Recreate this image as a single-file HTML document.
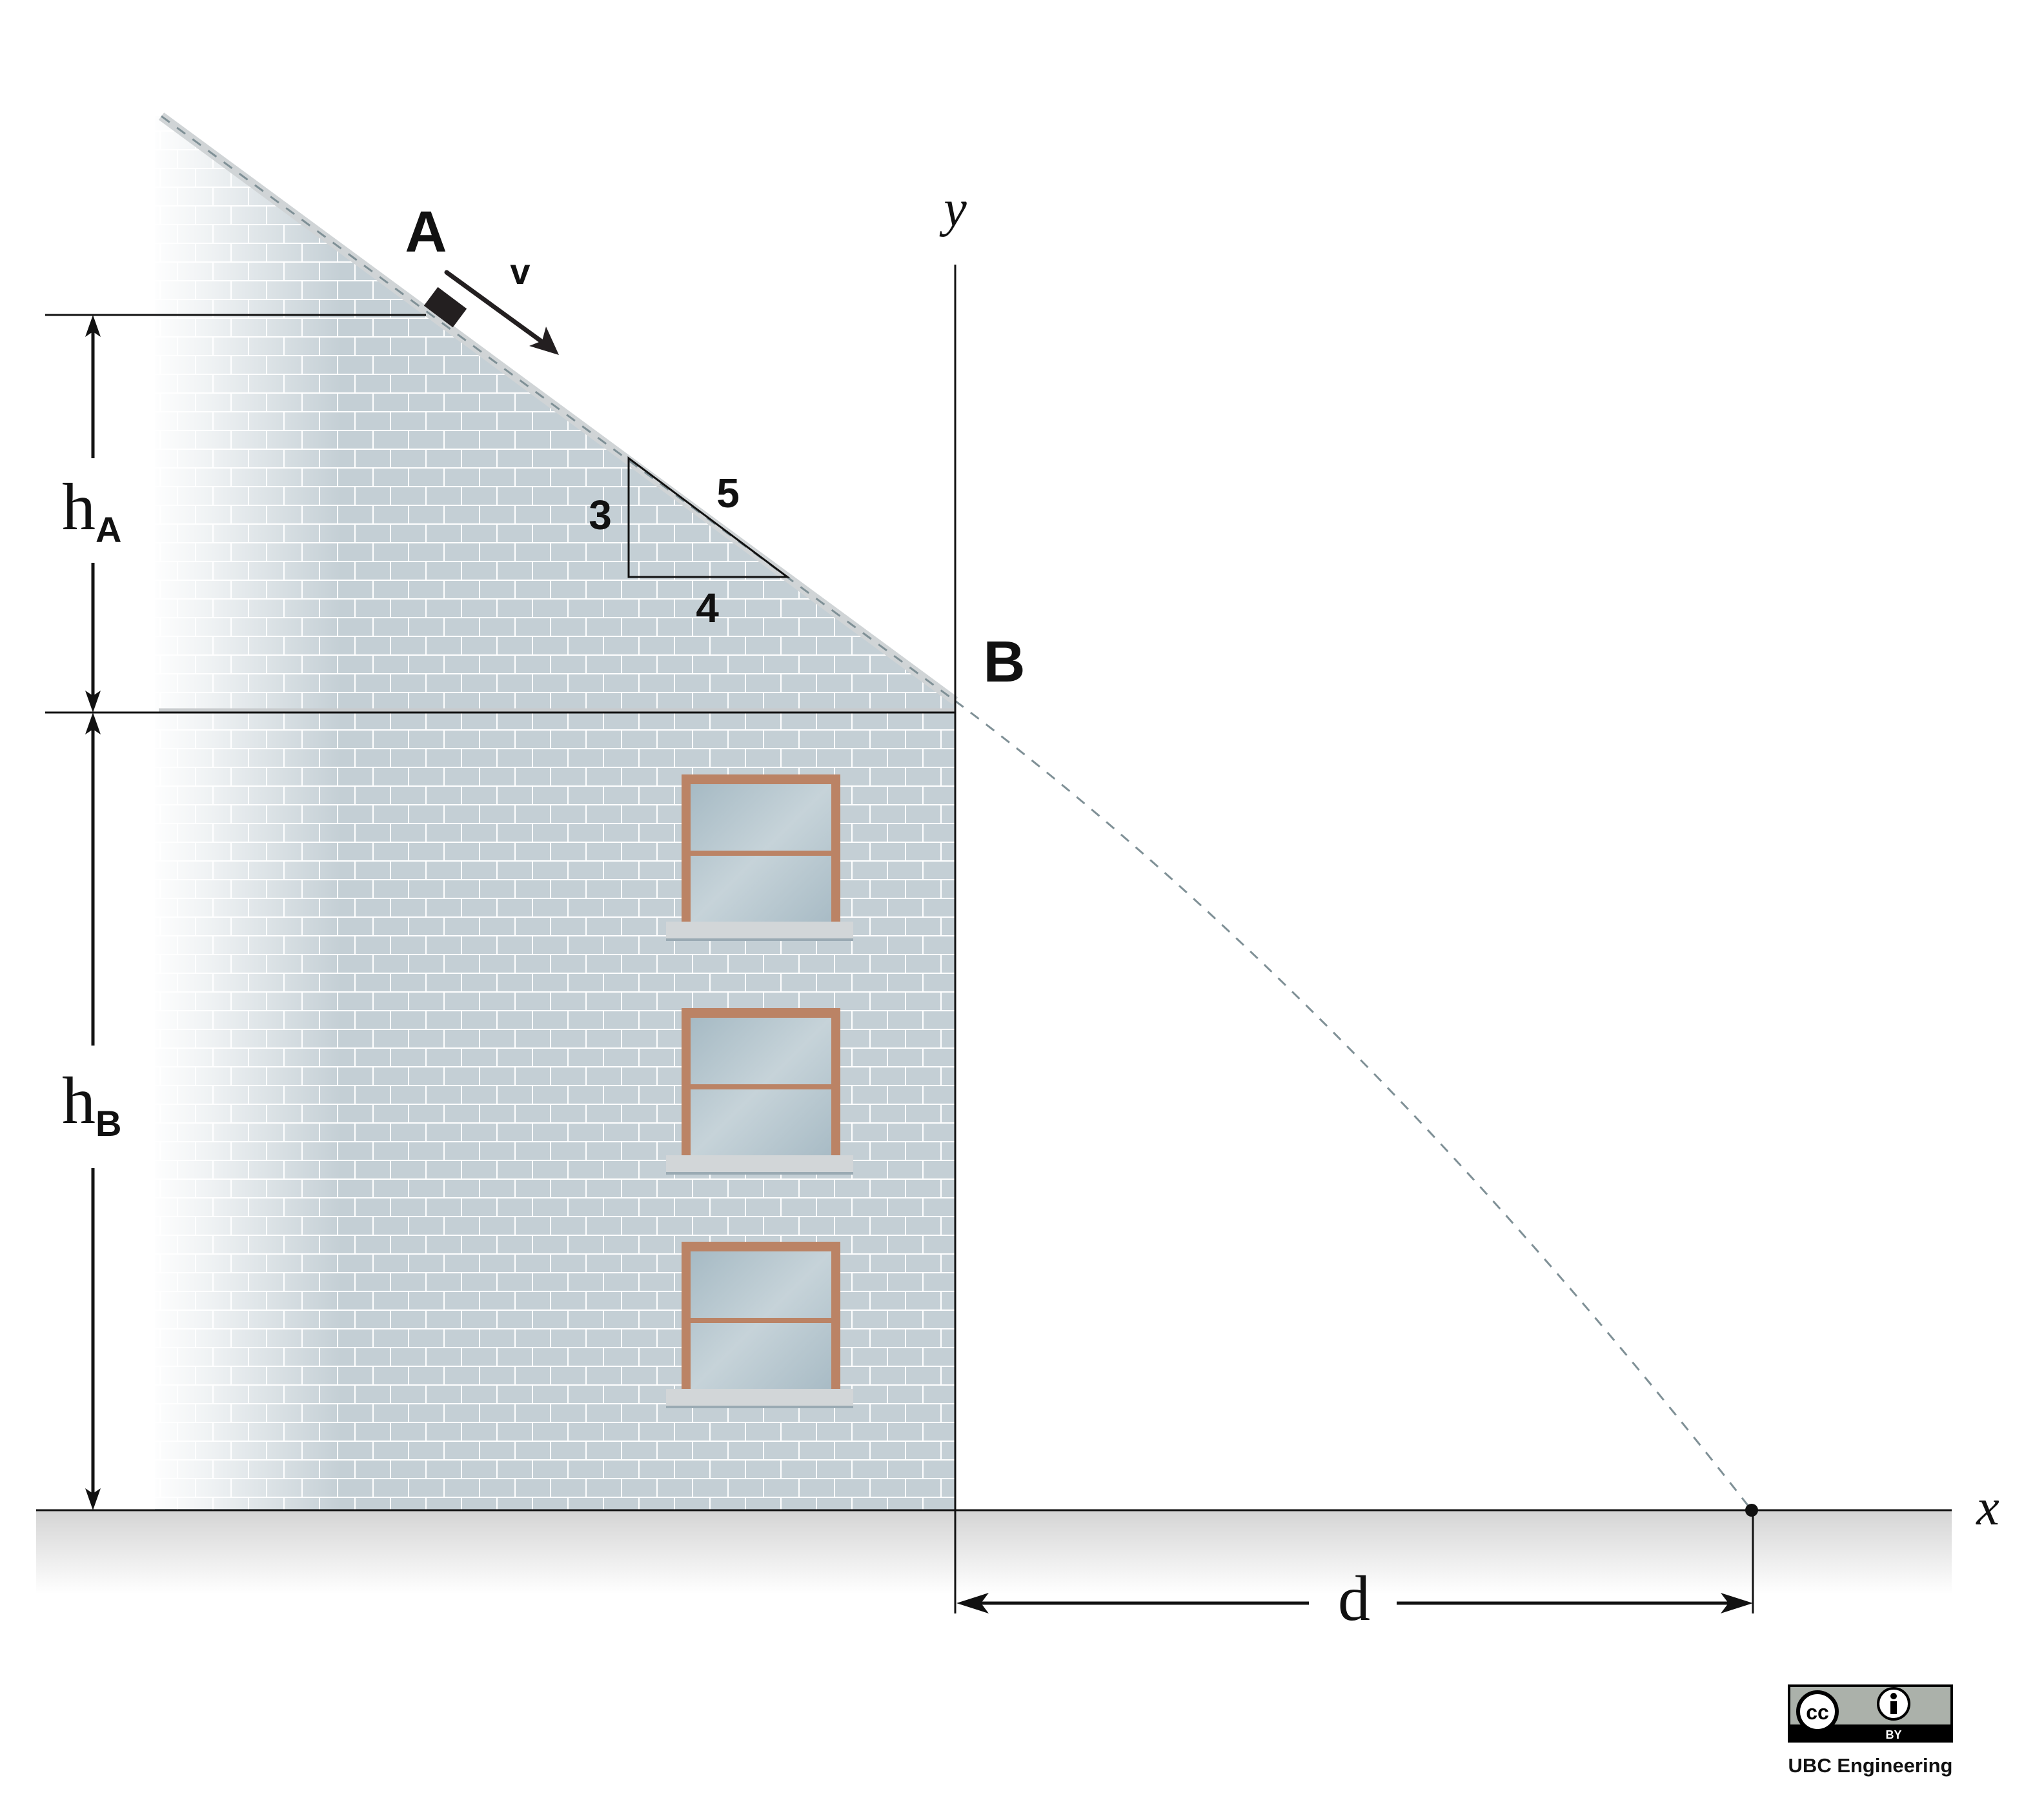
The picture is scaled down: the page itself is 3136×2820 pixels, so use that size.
<!DOCTYPE html>
<html><head><meta charset="utf-8"><style>html,body{margin:0;padding:0;background:#fff}svg{display:block}</style></head>
<body>
<svg width="3136" height="2820" viewBox="0 0 3136 2820" xmlns="http://www.w3.org/2000/svg">
<defs>
<pattern id="brick" x="0" y="0" width="110" height="58" patternUnits="userSpaceOnUse">
<rect width="110" height="58" fill="#fff"/>
<rect x="1" y="1" width="53" height="27" fill="#c4cfd5"/>
<rect x="56" y="1" width="53" height="27" fill="#c4cfd5"/>
<rect x="-26" y="30" width="53" height="27" fill="#c4cfd5"/>
<rect x="29" y="30" width="53" height="27" fill="#c4cfd5"/>
<rect x="84" y="30" width="53" height="27" fill="#c4cfd5"/>
</pattern>
<linearGradient id="fade" x1="0" x2="1" y1="0" y2="0">
<stop offset="0" stop-color="#fff" stop-opacity="1"/>
<stop offset="0.3" stop-color="#fff" stop-opacity="0.75"/>
<stop offset="1" stop-color="#fff" stop-opacity="0"/>
</linearGradient>
<linearGradient id="ground" x1="0" x2="0" y1="0" y2="1">
<stop offset="0" stop-color="#d4d4d4"/>
<stop offset="1" stop-color="#fff"/>
</linearGradient>
<linearGradient id="glass" x1="0" x2="1" y1="0" y2="1">
<stop offset="0" stop-color="#a6bac4"/>
<stop offset="0.5" stop-color="#c6d3d9"/>
<stop offset="1" stop-color="#a8bbc5"/>
</linearGradient>
</defs>

<rect x="56" y="2340" width="2968" height="130" fill="url(#ground)"/>

<g>
<polygon points="250,180 1480,1086 1480,2340 240,2340 240,180" fill="url(#brick)"/>
<rect x="230" y="160" width="300" height="2178" fill="url(#fade)"/>
<line x1="250" y1="180" x2="1480" y2="1086" stroke="#d0d4d6" stroke-width="14"/>
<line x1="246" y1="1100" x2="1480" y2="1100" stroke="#c8cbcd" stroke-width="5"/>
</g>

<g>
<g>
<rect x="1056" y="1200" width="246" height="230" fill="#bb8365"/>
<rect x="1070" y="1215" width="218" height="215" fill="url(#glass)"/>
<rect x="1070" y="1318" width="218" height="8" fill="#bb8365"/>
<rect x="1032" y="1428" width="290" height="26" fill="#d2d6d8"/>
<rect x="1032" y="1454" width="290" height="4" fill="#9aaab3"/>
</g>
<g>
<rect x="1056" y="1562" width="246" height="230" fill="#bb8365"/>
<rect x="1070" y="1577" width="218" height="215" fill="url(#glass)"/>
<rect x="1070" y="1680" width="218" height="8" fill="#bb8365"/>
<rect x="1032" y="1790" width="290" height="26" fill="#d2d6d8"/>
<rect x="1032" y="1816" width="290" height="4" fill="#9aaab3"/>
</g>
<g>
<rect x="1056" y="1924" width="246" height="230" fill="#bb8365"/>
<rect x="1070" y="1939" width="218" height="215" fill="url(#glass)"/>
<rect x="1070" y="2042" width="218" height="8" fill="#bb8365"/>
<rect x="1032" y="2152" width="290" height="26" fill="#d2d6d8"/>
<rect x="1032" y="2178" width="290" height="4" fill="#9aaab3"/>
</g>
</g>

<line x1="250" y1="180" x2="1480" y2="1086" stroke="#7f9096" stroke-width="3" stroke-dasharray="16,14"/>
<path d="M1480,1086 Q2097,1549 2714,2340" fill="none" stroke="#7f9096" stroke-width="3" stroke-dasharray="16,14"/>

<g transform="translate(690,476) rotate(36.87)">
<rect x="-28" y="-18" width="56" height="36" fill="#231f20"/>
</g>

<g stroke="#111" stroke-width="3" fill="none">
<line x1="70" y1="488" x2="660" y2="488"/>
<line x1="70" y1="1104" x2="1480" y2="1104"/>
<line x1="56" y1="2340" x2="3024" y2="2340"/>
<line x1="1480" y1="410" x2="1480" y2="2500"/>
<line x1="2716" y1="2340" x2="2716" y2="2500"/>
<polygon points="974,710 974,894 1220,894"/>
</g>

<g stroke="#111" stroke-width="5" fill="#111">
<line x1="144" y1="500" x2="144" y2="710"/>
<line x1="144" y1="872" x2="144" y2="1092"/>
<polygon points="144,488 132,522 144,514 156,522" stroke="none"/>
<polygon points="144,1104 132,1070 144,1078 156,1070" stroke="none"/>
</g>
<g stroke="#111" stroke-width="5" fill="#111">
<line x1="144" y1="1116" x2="144" y2="1620"/>
<line x1="144" y1="1810" x2="144" y2="2328"/>
<polygon points="144,1104 132,1138 144,1130 156,1138" stroke="none"/>
<polygon points="144,2340 132,2306 144,2314 156,2306" stroke="none"/>
</g>
<g stroke="#111" stroke-width="5" fill="#111">
<line x1="1500" y1="2484" x2="2028" y2="2484"/>
<line x1="2164" y1="2484" x2="2696" y2="2484"/>
<polygon points="1482,2484 1532,2468 1520,2484 1532,2500" stroke="none"/>
<polygon points="2716,2484 2666,2468 2678,2484 2666,2500" stroke="none"/>
</g>
<g>
<line x1="692" y1="422" x2="846" y2="534" stroke="#231f20" stroke-width="7" stroke-linecap="round"/>
<polygon points="866,550 820,536 840,528 846,506" fill="#231f20"/>
</g>
<circle cx="2714" cy="2340" r="10" fill="#111"/>

<g font-family="'Liberation Sans', sans-serif" font-weight="bold" fill="#111">
<text x="660" y="390" font-size="90" text-anchor="middle">A</text>
<text x="806" y="440" font-size="56" text-anchor="middle">v</text>
<text x="1556" y="1056" font-size="90" text-anchor="middle">B</text>
<text x="930" y="820" font-size="64" text-anchor="middle">3</text>
<text x="1128" y="786" font-size="64" text-anchor="middle">5</text>
<text x="1096" y="964" font-size="64" text-anchor="middle">4</text>
</g>
<g font-family="'Liberation Serif', serif" fill="#111">
<text x="96" y="820" font-size="104">h<tspan font-family="'Liberation Sans', sans-serif" font-weight="bold" font-size="56" dy="20">A</tspan></text>
<text x="96" y="1740" font-size="104">h<tspan font-family="'Liberation Sans', sans-serif" font-weight="bold" font-size="56" dy="20">B</tspan></text>
<text x="2098" y="2510" font-size="100" text-anchor="middle">d</text>
<text x="3080" y="2362" font-size="80" font-style="italic" text-anchor="middle">x</text>
<text x="1480" y="350" font-size="80" font-style="italic" text-anchor="middle">y</text>
</g>

<g>
<rect x="2770" y="2610" width="256" height="90" fill="#000"/>
<rect x="2774" y="2614" width="248" height="58" fill="#abb1aa"/>
<circle cx="2816" cy="2652" r="30" fill="#fff" stroke="#000" stroke-width="6"/>
<text x="2816" y="2664" font-family="'Liberation Sans', sans-serif" font-weight="bold" font-size="32" text-anchor="middle" fill="#000">cc</text>
<circle cx="2934" cy="2640" r="24" fill="#fff" stroke="#000" stroke-width="4"/>
<circle cx="2934" cy="2628" r="5" fill="#000"/>
<rect x="2929" y="2636" width="10" height="20" fill="#000"/>
<text x="2934" y="2694" font-family="'Liberation Sans', sans-serif" font-weight="bold" font-size="18" text-anchor="middle" fill="#fff">BY</text>
</g>
<text x="2898" y="2746" font-family="'Liberation Sans', sans-serif" font-weight="bold" font-size="31" text-anchor="middle" fill="#111">UBC Engineering</text>
</svg>
</body></html>
